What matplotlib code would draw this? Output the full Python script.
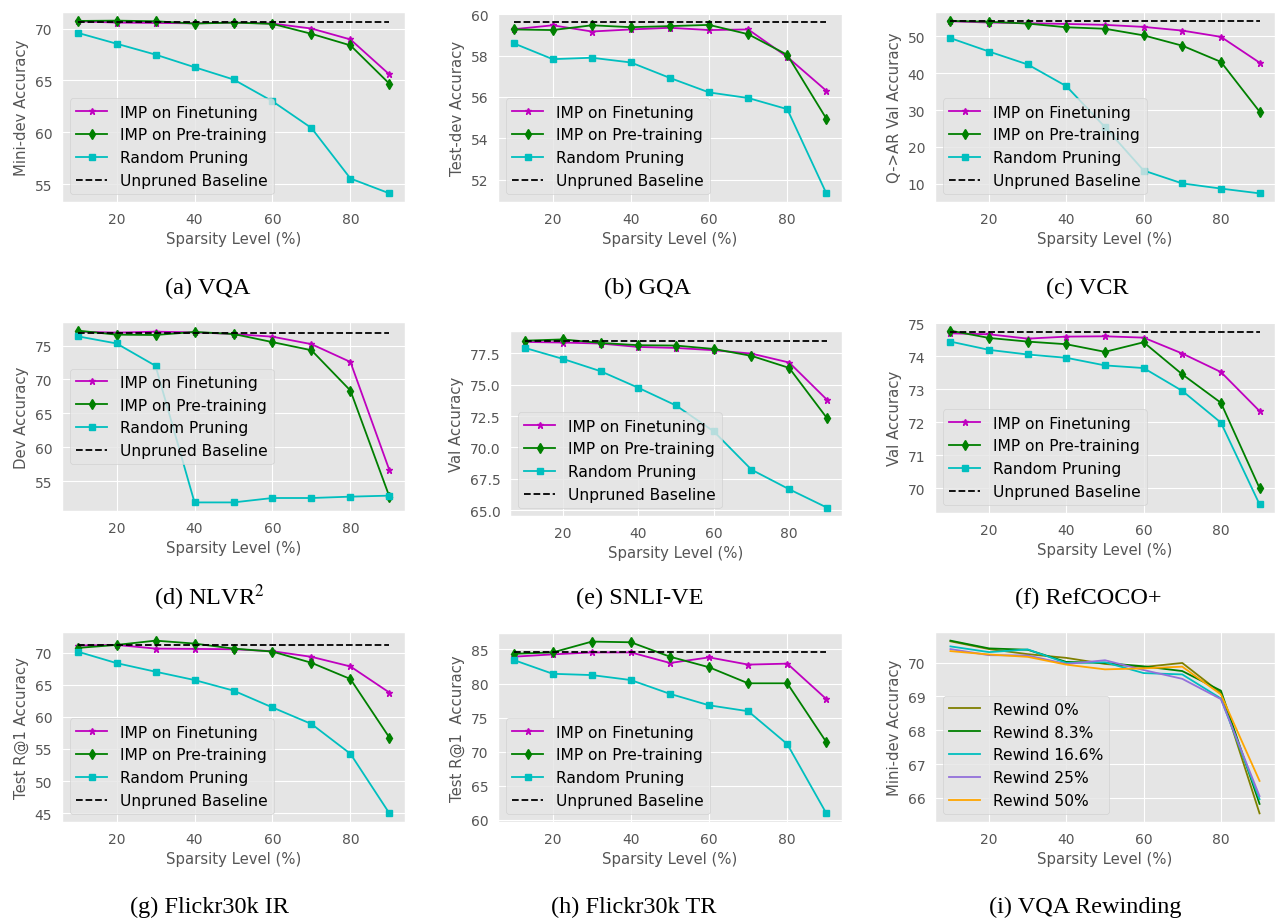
import matplotlib
matplotlib.use("Agg")
import matplotlib.pyplot as plt

plt.style.use("ggplot")
plt.rcParams["mathtext.fontset"] = "stix"

W, H = 1275, 920

sparsity = [10, 20, 30, 40, 50, 60, 70, 80, 90]

# (a) VQA
vqa_ft = [70.70, 70.57, 70.54, 70.50, 70.57, 70.48, 70.00, 68.95, 65.58]
vqa_pt = [70.73, 70.76, 70.70, 70.48, 70.57, 70.45, 69.49, 68.38, 64.69]
vqa_rand = [69.59, 68.54, 67.49, 66.28, 65.10, 63.00, 60.43, 55.57, 54.14]
vqa_base = 70.67

# (b) GQA
gqa_ft = [59.28, 59.47, 59.17, 59.27, 59.35, 59.24, 59.27, 57.94, 56.30]
gqa_pt = [59.27, 59.24, 59.47, 59.38, 59.43, 59.49, 59.04, 58.04, 54.95]
gqa_rand = [58.60, 57.83, 57.90, 57.67, 56.92, 56.22, 55.95, 55.41, 51.33]
gqa_base = 59.65

# (c) VCR
vcr_ft = [54.13, 53.78, 53.60, 53.40, 53.15, 52.60, 51.60, 49.90, 42.90]
vcr_pt = [54.20, 54.00, 53.50, 52.50, 52.10, 50.30, 47.50, 43.10, 29.60]
vcr_rand = [49.55, 45.90, 42.40, 36.50, 25.40, 13.60, 10.10, 8.70, 7.40]
vcr_base = 54.30

# (d) NLVR2
nlvr_ft = [77.04, 76.90, 77.04, 76.94, 76.70, 76.30, 75.20, 72.57, 56.60]
nlvr_pt = [77.20, 76.60, 76.55, 77.00, 76.70, 75.50, 74.30, 68.35, 52.70]
nlvr_rand = [76.36, 75.30, 72.00, 51.85, 51.85, 52.50, 52.50, 52.70, 52.85]
nlvr_base = 76.80

# (e) SNLI-VE
snli_ft = [78.40, 78.35, 78.27, 78.00, 77.92, 77.74, 77.47, 76.76, 73.80]
snli_pt = [78.50, 78.60, 78.32, 78.14, 78.11, 77.84, 77.29, 76.33, 72.34]
snli_rand = [77.92, 77.05, 76.07, 74.75, 73.34, 71.28, 68.23, 66.67, 65.21]
snli_base = 78.45

# (f) RefCOCO+
ref_ft = [74.69, 74.66, 74.53, 74.59, 74.60, 74.56, 74.08, 73.52, 72.34]
ref_pt = [74.77, 74.55, 74.44, 74.36, 74.13, 74.42, 73.45, 72.59, 70.01]
ref_rand = [74.44, 74.19, 74.05, 73.95, 73.72, 73.64, 72.95, 71.99, 69.52]
ref_base = 74.74

# (g) Flickr30k IR
ir_ft = [71.14, 71.24, 70.67, 70.62, 70.57, 70.26, 69.38, 67.88, 63.80]
ir_pt = [70.77, 71.24, 71.91, 71.45, 70.67, 70.20, 68.45, 65.92, 56.78]
ir_rand = [70.20, 68.40, 67.06, 65.76, 64.11, 61.48, 58.90, 54.25, 44.95]
ir_base = 71.29

# (h) Flickr30k TR
tr_ft = [83.94, 84.28, 84.57, 84.57, 83.02, 83.84, 82.78, 82.92, 77.71]
tr_pt = [84.37, 84.57, 86.16, 86.06, 83.94, 82.39, 80.03, 80.03, 71.39]
tr_rand = [83.46, 81.43, 81.24, 80.51, 78.48, 76.80, 75.93, 71.10, 60.92]
tr_base = 84.61

# (i) VQA Rewinding
rewind_labels = ["Rewind 0%", "Rewind 8.3%", "Rewind 16.6%", "Rewind 25%", "Rewind 50%"]
rewind_0 = [70.63, 70.40, 70.25, 70.14, 69.96, 69.87, 69.99, 69.10, 65.54]
rewind_83 = [70.65, 70.42, 70.38, 70.02, 69.99, 69.89, 69.75, 69.17, 65.82]
rewind_166 = [70.48, 70.31, 70.39, 69.99, 70.01, 69.69, 69.65, 68.94, 65.96]
rewind_25 = [70.40, 70.22, 70.21, 69.96, 70.07, 69.78, 69.52, 68.92, 66.05]
rewind_50 = [70.34, 70.24, 70.17, 69.94, 69.80, 69.83, 69.88, 69.06, 66.50]
rewind_colors = ["#808000", "#008000", "#00BFBF", "#9370DB", "#FFA500"]

series_labels = ["IMP on Finetuning", "IMP on Pre-training", "Random Pruning", "Unpruned Baseline"]

fig = plt.figure(figsize=(W / 100, H / 100), dpi=100)


def ax_at(l, t, r, b):
    return fig.add_axes([l / W, 1 - b / H, (r - l) / W, (b - t) / H])


def style(ax, ylabel, yticks):
    ax.set_xlabel("Sparsity Level (%)", fontsize=10.7, color="#555555")
    ax.set_ylabel(ylabel, fontsize=10.7, color="#555555")
    ax.set_yticks(yticks)
    ax.set_xticks([20, 40, 60, 80])
    ax.tick_params(labelsize=10, colors="#555555", width=0, length=3.5)


def prune_panel(box, ft, pt, rand, base, ylabel, yticks, loc="lower left"):
    ax = ax_at(*box)
    ax.plot(sparsity, ft, color="m", marker="*", markersize=4.5, lw=1.3, label=series_labels[0])
    ax.plot(sparsity, pt, color="g", marker="d", markersize=5, lw=1.3, label=series_labels[1])
    ax.plot(sparsity, rand, color="c", marker="s", markersize=5, lw=1.3, label=series_labels[2])
    ax.plot([sparsity[0], sparsity[-1]], [base, base], "k--", lw=1.3, label=series_labels[3])
    style(ax, ylabel, yticks)
    ax.legend(loc=loc, fontsize=11.2)
    return ax


prune_panel((62, 13, 405, 203), vqa_ft, vqa_pt, vqa_rand, vqa_base,
            "Mini-dev Accuracy", [55, 60, 65, 70])
prune_panel((498, 14, 842, 203), gqa_ft, gqa_pt, gqa_rand, gqa_base,
            "Test-dev Accuracy", [52, 54, 56, 58, 60])
prune_panel((935, 13, 1275, 203), vcr_ft, vcr_pt, vcr_rand, vcr_base,
            "Q->AR Val Accuracy", [10, 20, 30, 40, 50])
prune_panel((62, 323, 405, 512), nlvr_ft, nlvr_pt, nlvr_rand, nlvr_base,
            "Dev Accuracy", [55, 60, 65, 70, 75], loc="center left")
prune_panel((510, 332, 842, 517), snli_ft, snli_pt, snli_rand, snli_base,
            "Val Accuracy", [65.0, 67.5, 70.0, 72.5, 75.0, 77.5])
prune_panel((935, 323, 1275, 514), ref_ft, ref_pt, ref_rand, ref_base,
            "Val Accuracy", [70, 71, 72, 73, 74, 75])
prune_panel((62, 633, 405, 823), ir_ft, ir_pt, ir_rand, ir_base,
            "Test R@1 Accuracy", [45, 50, 55, 60, 65, 70])
prune_panel((498, 634, 842, 823), tr_ft, tr_pt, tr_rand, tr_base,
            "Test R@1  Accuracy", [60, 65, 70, 75, 80, 85])

ax_i = ax_at(935, 633, 1275, 823)
for vals, lab, col in zip([rewind_0, rewind_83, rewind_166, rewind_25, rewind_50],
                          rewind_labels, rewind_colors):
    ax_i.plot(sparsity, vals, color=col, lw=1.3, label=lab)
style(ax_i, "Mini-dev Accuracy", [66, 67, 68, 69, 70])
ax_i.legend(loc="lower left", fontsize=11.2)

captions = [
    ("(a) VQA", 208, 288), ("(b) GQA", 647, 288), ("(c) VCR", 1087, 288),
    ("(d) NLVR$^2$", 209, 598), ("(e) SNLI-VE", 640, 598), ("(f) RefCOCO+", 1088, 598),
    ("(g) Flickr30k IR", 209, 907), ("(h) Flickr30k TR", 634, 907), ("(i) VQA Rewinding", 1085, 907),
]
for txt, x, y in captions:
    fig.text(x / W, 1 - y / H, txt, ha="center", va="center",
             family="Liberation Serif", fontsize=17.5, color="black")

fig.savefig("out.png", dpi=100, facecolor="white")
